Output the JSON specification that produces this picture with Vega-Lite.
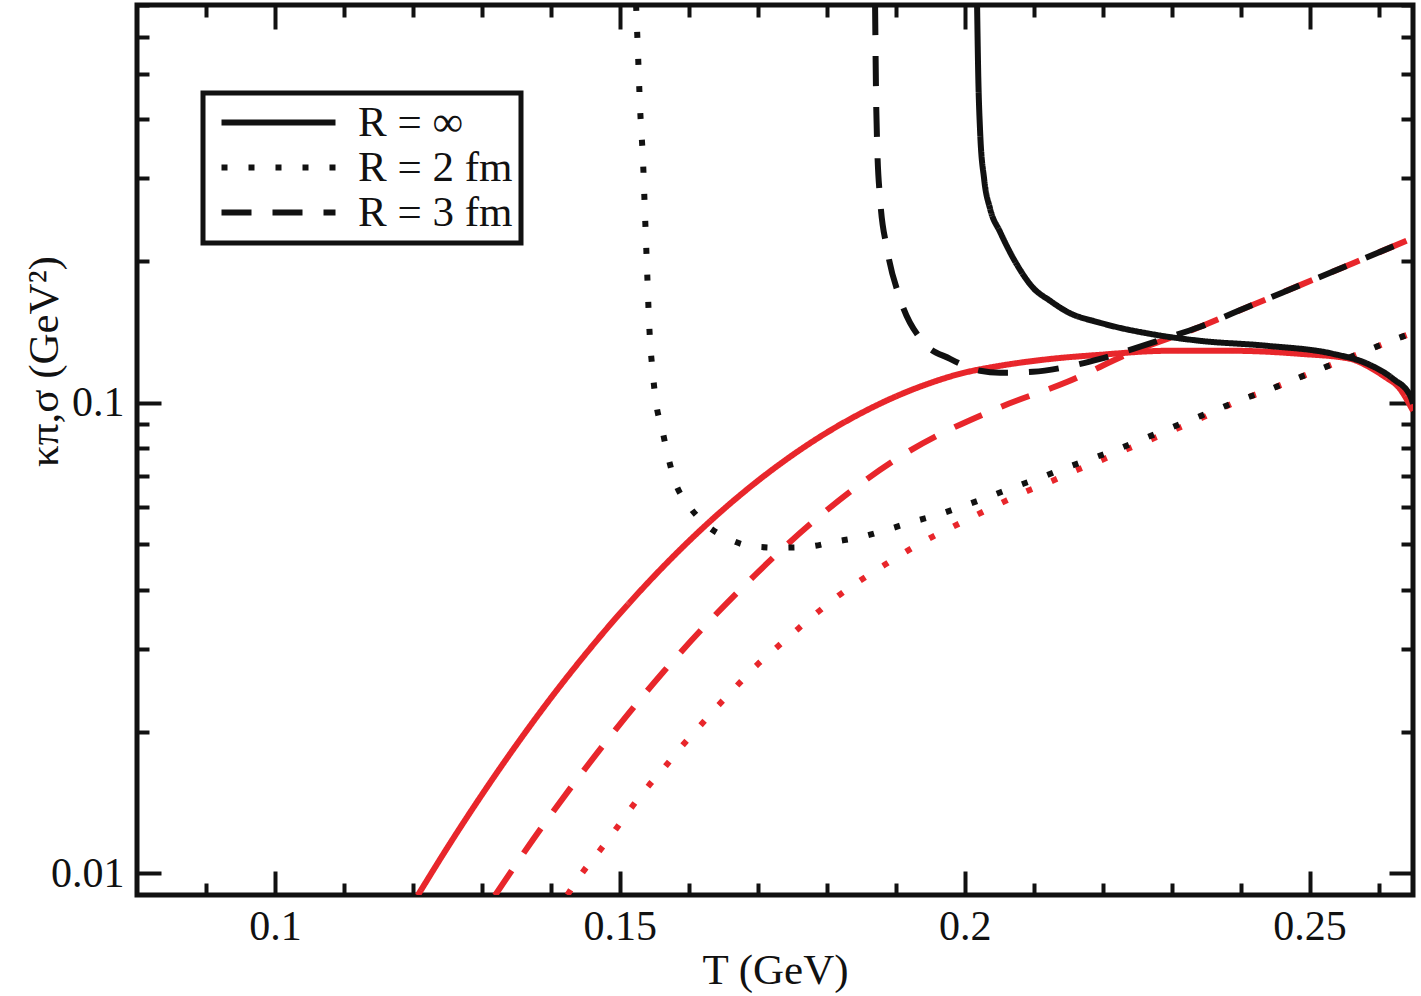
{
  "$schema": "https://vega.github.io/schema/vega-lite/v6.json",
  "width": 1276,
  "height": 890,
  "autosize": {"type": "none"},
  "padding": {"left": 137, "top": 5, "right": 8, "bottom": 101},
  "background": "white",
  "config": {
    "font": "Liberation Serif",
    "view": {"stroke": "#111111", "strokeWidth": 5}
  },
  "datasets": {
    "red": [
      {"R": "R = ∞", "T": 0.1207, "k": 0.00898},
      {"R": "R = ∞", "T": 0.1254, "k": 0.011592},
      {"R": "R = ∞", "T": 0.1302, "k": 0.014842},
      {"R": "R = ∞", "T": 0.1351, "k": 0.018843},
      {"R": "R = ∞", "T": 0.1399, "k": 0.023484},
      {"R": "R = ∞", "T": 0.1447, "k": 0.028847},
      {"R": "R = ∞", "T": 0.1496, "k": 0.035115},
      {"R": "R = ∞", "T": 0.1544, "k": 0.041962},
      {"R": "R = ∞", "T": 0.1592, "k": 0.049488},
      {"R": "R = ∞", "T": 0.1645, "k": 0.058451},
      {"R": "R = ∞", "T": 0.1703, "k": 0.068785},
      {"R": "R = ∞", "T": 0.1751, "k": 0.077537},
      {"R": "R = ∞", "T": 0.1801, "k": 0.086596},
      {"R": "R = ∞", "T": 0.1848, "k": 0.094734},
      {"R": "R = ∞", "T": 0.1896, "k": 0.1025},
      {"R": "R = ∞", "T": 0.1946, "k": 0.10962},
      {"R": "R = ∞", "T": 0.1993, "k": 0.11522},
      {"R": "R = ∞", "T": 0.2051, "k": 0.11982},
      {"R": "R = ∞", "T": 0.2124, "k": 0.1239},
      {"R": "R = ∞", "T": 0.2196, "k": 0.12645},
      {"R": "R = ∞", "T": 0.2294, "k": 0.12895},
      {"R": "R = ∞", "T": 0.2389, "k": 0.12895},
      {"R": "R = ∞", "T": 0.2486, "k": 0.12706},
      {"R": "R = ∞", "T": 0.2559, "k": 0.124},
      {"R": "R = ∞", "T": 0.25835, "k": 0.1198},
      {"R": "R = ∞", "T": 0.2607, "k": 0.1141},
      {"R": "R = ∞", "T": 0.2631, "k": 0.10708},
      {"R": "R = ∞", "T": 0.265, "k": 0.09616},
      {"R": "R = 3 fm", "T": 0.1319, "k": 0.00898},
      {"R": "R = 3 fm", "T": 0.1374, "k": 0.011792},
      {"R": "R = 3 fm", "T": 0.1464, "k": 0.017775},
      {"R": "R = 3 fm", "T": 0.1563, "k": 0.026792},
      {"R": "R = 3 fm", "T": 0.1685, "k": 0.04152},
      {"R": "R = 3 fm", "T": 0.1786, "k": 0.056844},
      {"R": "R = 3 fm", "T": 0.1911, "k": 0.077573},
      {"R": "R = 3 fm", "T": 0.2051, "k": 0.097837},
      {"R": "R = 3 fm", "T": 0.2149, "k": 0.1108},
      {"R": "R = 3 fm", "T": 0.2244, "k": 0.1283},
      {"R": "R = 3 fm", "T": 0.23414, "k": 0.14501},
      {"R": "R = 3 fm", "T": 0.23892, "k": 0.1551},
      {"R": "R = 3 fm", "T": 0.24385, "k": 0.1662},
      {"R": "R = 3 fm", "T": 0.24864, "k": 0.1778},
      {"R": "R = 3 fm", "T": 0.25342, "k": 0.1901},
      {"R": "R = 3 fm", "T": 0.25835, "k": 0.2038},
      {"R": "R = 3 fm", "T": 0.265, "k": 0.2238},
      {"R": "R = 2 fm", "T": 0.1424, "k": 0.009},
      {"R": "R = 2 fm", "T": 0.1447, "k": 0.0101},
      {"R": "R = 2 fm", "T": 0.1471, "k": 0.01119},
      {"R": "R = 2 fm", "T": 0.1495, "k": 0.01246},
      {"R": "R = 2 fm", "T": 0.1518, "k": 0.01388},
      {"R": "R = 2 fm", "T": 0.1542, "k": 0.01537},
      {"R": "R = 2 fm", "T": 0.1567, "k": 0.01696},
      {"R": "R = 2 fm", "T": 0.1592, "k": 0.01879},
      {"R": "R = 2 fm", "T": 0.1618, "k": 0.02072},
      {"R": "R = 2 fm", "T": 0.1644, "k": 0.02285},
      {"R": "R = 2 fm", "T": 0.167, "k": 0.02507},
      {"R": "R = 2 fm", "T": 0.1698, "k": 0.02765},
      {"R": "R = 2 fm", "T": 0.1727, "k": 0.03018},
      {"R": "R = 2 fm", "T": 0.1757, "k": 0.03296},
      {"R": "R = 2 fm", "T": 0.1786, "k": 0.03581},
      {"R": "R = 2 fm", "T": 0.1817, "k": 0.03892},
      {"R": "R = 2 fm", "T": 0.1848, "k": 0.04188},
      {"R": "R = 2 fm", "T": 0.1882, "k": 0.04507},
      {"R": "R = 2 fm", "T": 0.1915, "k": 0.04828},
      {"R": "R = 2 fm", "T": 0.1948, "k": 0.05144},
      {"R": "R = 2 fm", "T": 0.1983, "k": 0.05454},
      {"R": "R = 2 fm", "T": 0.2018, "k": 0.05784},
      {"R": "R = 2 fm", "T": 0.2054, "k": 0.06134},
      {"R": "R = 2 fm", "T": 0.2088, "k": 0.06471},
      {"R": "R = 2 fm", "T": 0.2124, "k": 0.06796},
      {"R": "R = 2 fm", "T": 0.216, "k": 0.07172},
      {"R": "R = 2 fm", "T": 0.2196, "k": 0.0753},
      {"R": "R = 2 fm", "T": 0.2233, "k": 0.07947},
      {"R": "R = 2 fm", "T": 0.2269, "k": 0.08346},
      {"R": "R = 2 fm", "T": 0.2341, "k": 0.09247},
      {"R": "R = 2 fm", "T": 0.24008, "k": 0.10148},
      {"R": "R = 2 fm", "T": 0.24371, "k": 0.10604},
      {"R": "R = 2 fm", "T": 0.24733, "k": 0.11136},
      {"R": "R = 2 fm", "T": 0.25096, "k": 0.11695},
      {"R": "R = 2 fm", "T": 0.25458, "k": 0.12279},
      {"R": "R = 2 fm", "T": 0.25821, "k": 0.12895},
      {"R": "R = 2 fm", "T": 0.26183, "k": 0.1354},
      {"R": "R = 2 fm", "T": 0.265, "k": 0.1408}
    ],
    "black": [
      {"R": "R = ∞", "T": 0.2018, "k": 0.7},
      {"R": "R = ∞", "T": 0.20195, "k": 0.5118},
      {"R": "R = ∞", "T": 0.20224, "k": 0.3762},
      {"R": "R = ∞", "T": 0.20282, "k": 0.2989},
      {"R": "R = ∞", "T": 0.20369, "k": 0.2582},
      {"R": "R = ∞", "T": 0.20514, "k": 0.2306},
      {"R": "R = ∞", "T": 0.2076, "k": 0.1963},
      {"R": "R = ∞", "T": 0.20992, "k": 0.1755},
      {"R": "R = ∞", "T": 0.21239, "k": 0.1647},
      {"R": "R = ∞", "T": 0.21485, "k": 0.1561},
      {"R": "R = ∞", "T": 0.21964, "k": 0.1479},
      {"R": "R = ∞", "T": 0.22689, "k": 0.1401},
      {"R": "R = ∞", "T": 0.23414, "k": 0.1354},
      {"R": "R = ∞", "T": 0.2439, "k": 0.13213},
      {"R": "R = ∞", "T": 0.2534, "k": 0.12706},
      {"R": "R = ∞", "T": 0.2584, "k": 0.121},
      {"R": "R = ∞", "T": 0.2621, "k": 0.11245},
      {"R": "R = ∞", "T": 0.2646, "k": 0.10348},
      {"R": "R = ∞", "T": 0.265, "k": 0.0995},
      {"R": "R = 3 fm", "T": 0.18701, "k": 0.7},
      {"R": "R = 3 fm", "T": 0.18716, "k": 0.4419},
      {"R": "R = 3 fm", "T": 0.1873, "k": 0.3582},
      {"R": "R = 3 fm", "T": 0.18774, "k": 0.2711},
      {"R": "R = 3 fm", "T": 0.18875, "k": 0.2123},
      {"R": "R = 3 fm", "T": 0.19064, "k": 0.1663},
      {"R": "R = 3 fm", "T": 0.19397, "k": 0.13475},
      {"R": "R = 3 fm", "T": 0.19789, "k": 0.124},
      {"R": "R = 3 fm", "T": 0.20224, "k": 0.11695},
      {"R": "R = 3 fm", "T": 0.20514, "k": 0.1158},
      {"R": "R = 3 fm", "T": 0.20992, "k": 0.11636},
      {"R": "R = 3 fm", "T": 0.21485, "k": 0.11924},
      {"R": "R = 3 fm", "T": 0.21964, "k": 0.124},
      {"R": "R = 3 fm", "T": 0.22442, "k": 0.13021},
      {"R": "R = 3 fm", "T": 0.22935, "k": 0.1374},
      {"R": "R = 3 fm", "T": 0.23414, "k": 0.14501},
      {"R": "R = 3 fm", "T": 0.23892, "k": 0.1551},
      {"R": "R = 3 fm", "T": 0.24385, "k": 0.1662},
      {"R": "R = 3 fm", "T": 0.24864, "k": 0.1778},
      {"R": "R = 3 fm", "T": 0.25342, "k": 0.1901},
      {"R": "R = 3 fm", "T": 0.25835, "k": 0.2038},
      {"R": "R = 3 fm", "T": 0.265, "k": 0.2238},
      {"R": "R = 2 fm", "T": 0.15236, "k": 0.7},
      {"R": "R = 2 fm", "T": 0.15264, "k": 0.5508},
      {"R": "R = 2 fm", "T": 0.15294, "k": 0.4229},
      {"R": "R = 2 fm", "T": 0.15337, "k": 0.3249},
      {"R": "R = 2 fm", "T": 0.15366, "k": 0.2495},
      {"R": "R = 2 fm", "T": 0.15395, "k": 0.1925},
      {"R": "R = 2 fm", "T": 0.15424, "k": 0.1486},
      {"R": "R = 2 fm", "T": 0.15482, "k": 0.1141},
      {"R": "R = 2 fm", "T": 0.15526, "k": 0.1},
      {"R": "R = 2 fm", "T": 0.15612, "k": 0.08807},
      {"R": "R = 2 fm", "T": 0.157, "k": 0.0768},
      {"R": "R = 2 fm", "T": 0.15801, "k": 0.06796},
      {"R": "R = 2 fm", "T": 0.1599, "k": 0.06074},
      {"R": "R = 2 fm", "T": 0.1625, "k": 0.05508},
      {"R": "R = 2 fm", "T": 0.1657, "k": 0.05144},
      {"R": "R = 2 fm", "T": 0.16961, "k": 0.04946},
      {"R": "R = 2 fm", "T": 0.17353, "k": 0.04922},
      {"R": "R = 2 fm", "T": 0.1773, "k": 0.04946},
      {"R": "R = 2 fm", "T": 0.18121, "k": 0.05069},
      {"R": "R = 2 fm", "T": 0.18513, "k": 0.05194},
      {"R": "R = 2 fm", "T": 0.18875, "k": 0.05375},
      {"R": "R = 2 fm", "T": 0.19252, "k": 0.05589},
      {"R": "R = 2 fm", "T": 0.19615, "k": 0.05784},
      {"R": "R = 2 fm", "T": 0.19992, "k": 0.06045},
      {"R": "R = 2 fm", "T": 0.20354, "k": 0.06318},
      {"R": "R = 2 fm", "T": 0.20731, "k": 0.06632},
      {"R": "R = 2 fm", "T": 0.21094, "k": 0.06931},
      {"R": "R = 2 fm", "T": 0.21471, "k": 0.07278},
      {"R": "R = 2 fm", "T": 0.21833, "k": 0.07605},
      {"R": "R = 2 fm", "T": 0.22196, "k": 0.07947},
      {"R": "R = 2 fm", "T": 0.22558, "k": 0.08346},
      {"R": "R = 2 fm", "T": 0.2292, "k": 0.08764},
      {"R": "R = 2 fm", "T": 0.23283, "k": 0.09203},
      {"R": "R = 2 fm", "T": 0.23646, "k": 0.09663},
      {"R": "R = 2 fm", "T": 0.24008, "k": 0.10148},
      {"R": "R = 2 fm", "T": 0.24371, "k": 0.10604},
      {"R": "R = 2 fm", "T": 0.24733, "k": 0.11136},
      {"R": "R = 2 fm", "T": 0.25096, "k": 0.11695},
      {"R": "R = 2 fm", "T": 0.25458, "k": 0.12279},
      {"R": "R = 2 fm", "T": 0.25821, "k": 0.12895},
      {"R": "R = 2 fm", "T": 0.26183, "k": 0.1354},
      {"R": "R = 2 fm", "T": 0.265, "k": 0.1408}
    ]
  },
  "layer": [
    {
      "data": {"name": "red"},
      "mark": {"type": "line", "color": "#E8262B", "strokeWidth": 6, "strokeCap": "butt", "interpolate": "monotone", "clip": true},
      "encoding": {
        "x": {
          "field": "T", "type": "quantitative",
          "scale": {"domain": [0.08, 0.265], "nice": false, "zero": false},
          "axis": {
            "orient": "bottom",
            "values": [0.09, 0.1, 0.11, 0.12, 0.13, 0.14, 0.15, 0.16, 0.17, 0.18, 0.19, 0.2, 0.21, 0.22, 0.23, 0.24, 0.25, 0.26],
            "labelExpr": "round(datum.value*100) % 5 == 0 ? format(datum.value, '~g') : ''",
            "tickSize": {"condition": {"test": "round(datum.value*100) % 5 == 0", "value": -24}, "value": -12},
            "tickWidth": 4, "tickColor": "#111111",
            "domain": false, "grid": false,
            "labelFontSize": 42, "labelColor": "#111111", "labelPadding": 35,
            "labelFlush": false, "labelOverlap": false, "labelBound": false,
            "title": "T (GeV)", "titleFontSize": 43, "titleFontWeight": "normal", "titleColor": "#111111",
            "titleY": 88, "titleBaseline": "alphabetic"
          }
        },
        "y": {
          "field": "k", "type": "quantitative",
          "scale": {"type": "log", "domain": [0.009, 0.7], "nice": false},
          "axis": {
            "orient": "left",
            "values": [0.01, 0.02, 0.03, 0.04, 0.05, 0.06, 0.07, 0.08, 0.09, 0.1, 0.2, 0.3, 0.4, 0.5, 0.6, 0.7],
            "labelExpr": "(datum.value == 0.01 || datum.value == 0.1) ? format(datum.value, '~g') : ''",
            "tickSize": {"condition": {"test": "datum.value == 0.01 || datum.value == 0.1", "value": -24}, "value": -12},
            "tickWidth": 4, "tickColor": "#111111",
            "domain": false, "grid": false,
            "labelFontSize": 42, "labelColor": "#111111", "labelPadding": 37,
            "labelFlush": false, "labelOverlap": false, "labelBound": false,
            "title": "κπ,σ (GeV²)", "titleFontSize": 43, "titleFontWeight": "normal", "titleColor": "#111111",
            "titleAngle": 270, "titleX": -80, "titleY": 356, "titleAlign": "center", "titleBaseline": "alphabetic"
          }
        },
        "strokeDash": {
          "field": "R", "type": "nominal",
          "scale": {"domain": ["R = ∞", "R = 2 fm", "R = 3 fm"], "range": [[1, 0], [6, 21], [30, 21]]},
          "legend": {
            "orient": "none", "legendX": 66, "legendY": 88,
            "title": null,
            "symbolType": "M -3.8 0 L 3.8 0",
            "symbolSize": 900,
            "symbolStrokeWidth": 6,
            "symbolStrokeColor": "#111111",
            "symbolOffset": 46,
            "labelOffset": 58,
            "labelFontSize": 43,
            "labelColor": "#111111",
            "labelLimit": 400,
            "strokeColor": "#111111",
            "fillColor": "white",
            "padding": 8,
            "rowPadding": 1,
            "encode": {"legend": {"update": {"strokeWidth": {"value": 5}}}}
          }
        }
      }
    },
    {
      "data": {"name": "black"},
      "mark": {"type": "line", "color": "#111111", "strokeWidth": 6, "strokeCap": "butt", "interpolate": "monotone", "clip": true},
      "encoding": {
        "x": {
          "field": "T", "type": "quantitative",
          "axis": {
            "orient": "top",
            "values": [0.09, 0.1, 0.11, 0.12, 0.13, 0.14, 0.15, 0.16, 0.17, 0.18, 0.19, 0.2, 0.21, 0.22, 0.23, 0.24, 0.25, 0.26],
            "labels": false,
            "tickSize": {"condition": {"test": "round(datum.value*100) % 5 == 0", "value": -24}, "value": -12},
            "tickWidth": 4, "tickColor": "#111111",
            "domain": false, "grid": false, "title": null
          }
        },
        "y": {
          "field": "k", "type": "quantitative",
          "axis": {
            "orient": "right",
            "values": [0.01, 0.02, 0.03, 0.04, 0.05, 0.06, 0.07, 0.08, 0.09, 0.1, 0.2, 0.3, 0.4, 0.5, 0.6, 0.7],
            "labels": false,
            "tickSize": {"condition": {"test": "datum.value == 0.01 || datum.value == 0.1", "value": -24}, "value": -12},
            "tickWidth": 4, "tickColor": "#111111",
            "domain": false, "grid": false, "title": null
          }
        },
        "strokeDash": {
          "field": "R", "type": "nominal",
          "scale": {"domain": ["R = ∞", "R = 2 fm", "R = 3 fm"], "range": [[1, 0], [6, 21], [30, 21]]},
          "legend": {
            "orient": "none", "legendX": 66, "legendY": 88,
            "title": null,
            "symbolType": "M -3.8 0 L 3.8 0",
            "symbolSize": 900,
            "symbolStrokeWidth": 6,
            "symbolStrokeColor": "#111111",
            "symbolOffset": 46,
            "labelOffset": 58,
            "labelFontSize": 43,
            "labelColor": "#111111",
            "labelLimit": 400,
            "strokeColor": "#111111",
            "fillColor": "white",
            "padding": 8,
            "rowPadding": 1,
            "encode": {"legend": {"update": {"strokeWidth": {"value": 5}}}}
          }
        }
      }
    }
  ],
  "resolve": {"axis": {"x": "independent", "y": "independent"}}
}
